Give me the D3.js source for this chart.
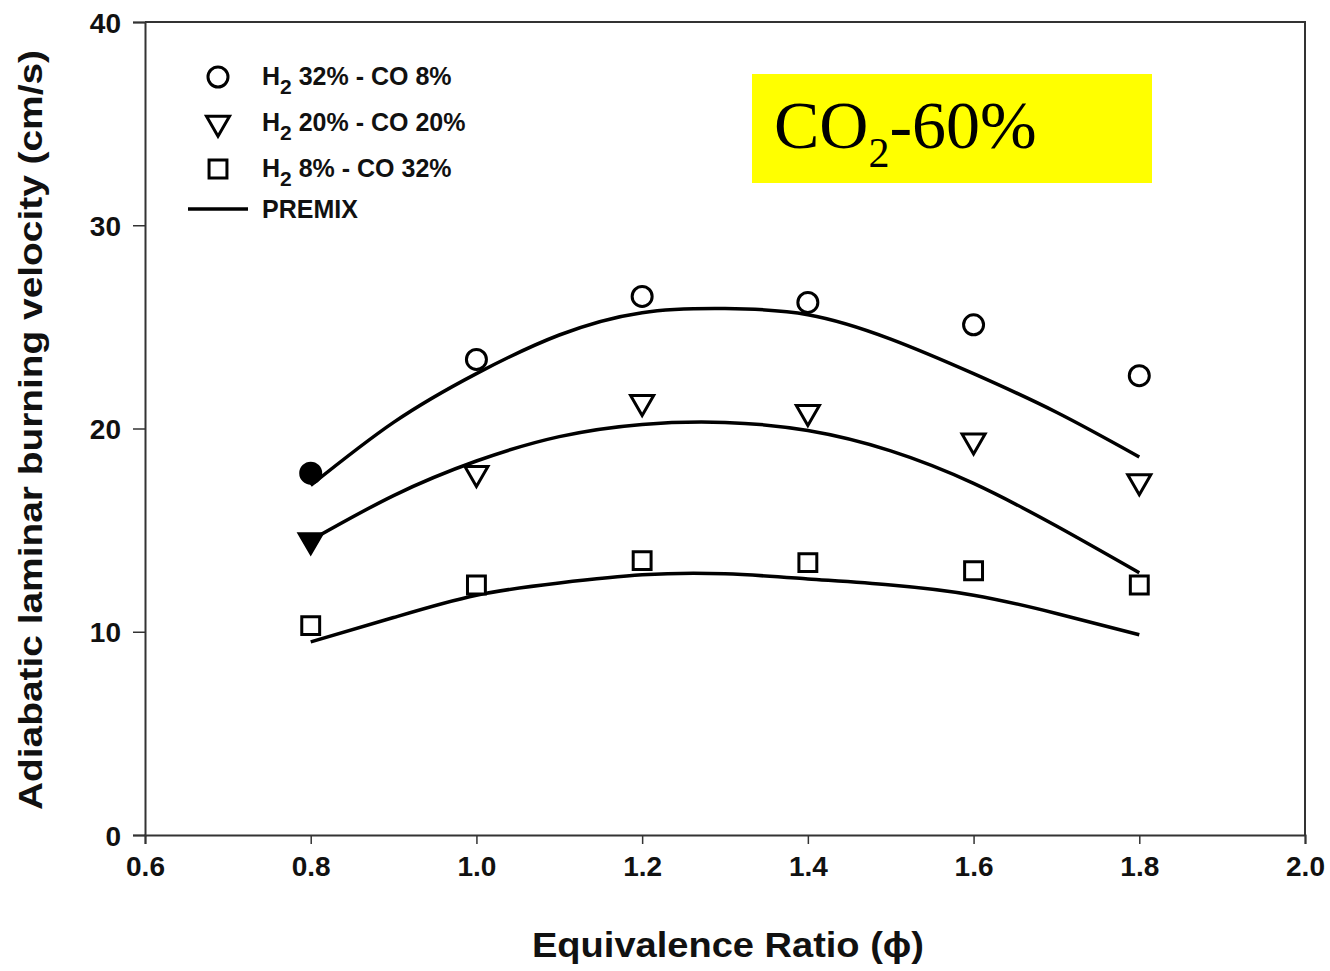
<!DOCTYPE html>
<html>
<head>
<meta charset="utf-8">
<script src="https://cdn.jsdelivr.net/npm/d3@7"></script>
<style>
  body { margin: 0; background: #fff; }
  svg { display: block; font-family: "Liberation Sans", Arial, sans-serif; }
</style>
</head>
<body>
<svg id="chart"></svg>
<script>
// measured points
const phiPoints = [0.8, 1.0, 1.2, 1.4, 1.6, 1.8];
const h2_32 = [17.8, 23.4, 26.5, 26.2, 25.1, 22.6];
const h2_20 = [14.5, 17.8, 21.3, 20.8, 19.4, 17.4];
const h2_8 = [10.3, 12.3, 13.5, 13.4, 13.0, 12.3];

// premix curves
const phiCurve = [0.8, 0.9, 1.0, 1.1, 1.2, 1.3, 1.4, 1.5, 1.6, 1.7, 1.8];
const premix32 = [17.2, 20.3, 22.7, 24.6, 25.7, 25.9, 25.6, 24.4, 22.7, 20.8, 18.6];
const premix20 = [14.5, 16.7, 18.4, 19.6, 20.2, 20.3, 19.9, 18.9, 17.3, 15.2, 12.9];
const premix8 = [9.5, 10.7, 11.8, 12.4, 12.8, 12.85, 12.6, 12.3, 11.8, 10.9, 9.85];

const xTicks = [0.6, 0.8, 1.0, 1.2, 1.4, 1.6, 1.8, 2.0];
const yTicks = [0, 10, 20, 30, 40];

const legendLabels = [
  ['32% - CO 8%', 'circle'],
  ['20% - CO 20%', 'triangle'],
  ['8% - CO 32%', 'square']
];

const width = 1330, height = 971;
const svg = d3.select('#chart').attr('width', width).attr('height', height);

const x = d3.scaleLinear().domain([0.6, 2.0]).range([145, 1305]);
const y = d3.scaleLinear().domain([0, 40]).range([835, 22]);

const axisColor = '#333';

/* frame: top and right */
svg.append('path')
  .attr('d', `M${x(0.6)},${y(40)}H${x(2.0)}V${y(0)}`)
  .attr('fill', 'none').attr('stroke', axisColor).attr('stroke-width', 2);

/* axes */
const xAxis = svg.append('g')
  .attr('transform', `translate(0,${y(0)})`)
  .call(d3.axisBottom(x).tickValues(xTicks).tickFormat(d3.format('.1f')).tickSizeOuter(0).tickSize(9).tickPadding(10));
const yAxis = svg.append('g')
  .attr('transform', `translate(${x(0.6)},0)`)
  .call(d3.axisLeft(y).tickValues(yTicks).tickSizeOuter(0).tickSize(12).tickPadding(12));

[xAxis, yAxis].forEach(g => {
  g.select('.domain').attr('stroke', axisColor).attr('stroke-width', 2);
  g.selectAll('.tick line').attr('stroke', axisColor).attr('stroke-width', 1.5);
  g.selectAll('.tick text')
    .attr('fill', '#111')
    .style('font-size', '28px')
    .style('font-weight', 'bold')
    .style('font-family', '"Liberation Sans", Arial, sans-serif');
});
xAxis.selectAll('.tick text').attr('dy', '0.8em');
yAxis.selectAll('.tick text').attr('dy', '0.36em');

/* axis titles */
svg.append('text')
  .attr('x', 728).attr('y', 957)
  .attr('text-anchor', 'middle')
  .attr('textLength', 392).attr('lengthAdjust', 'spacingAndGlyphs')
  .style('font-size', '35px').style('font-weight', 'bold').attr('fill', '#111')
  .text('Equivalence Ratio (ϕ)');

svg.append('text')
  .attr('transform', `translate(42,430) rotate(-90)`)
  .attr('text-anchor', 'middle')
  .attr('textLength', 760).attr('lengthAdjust', 'spacingAndGlyphs')
  .style('font-size', '33px').style('font-weight', 'bold').attr('fill', '#111')
  .text('Adiabatic laminar burning velocity (cm/s)');

/* premix lines */
const line = d3.line()
  .x(d => x(d[0]))
  .y(d => y(d[1]))
  .curve(d3.curveNatural);

[premix32, premix20, premix8].forEach(vals => {
  svg.append('path')
    .datum(phiCurve.map((p, i) => [p, vals[i]]))
    .attr('d', line)
    .attr('fill', 'none')
    .attr('stroke', '#000')
    .attr('stroke-width', 3.5);
});

/* markers */
const symbolFor = {
  circle: d3.symbol().type(d3.symbolCircle).size(Math.PI * 10 * 10),
  triangle: d3.symbol().type(d3.symbolTriangle).size(230),
  square: d3.symbol().type(d3.symbolSquare).size(320)
};

function drawMarkers(vals, shape) {
  svg.append('g').selectAll('path')
    .data(phiPoints.map((p, i) => [p, vals[i]]))
    .join('path')
    .attr('d', symbolFor[shape])
    .attr('transform', d => `translate(${x(d[0])},${y(d[1])})` + (shape === 'triangle' ? ' rotate(180)' : ''))
    .attr('fill', (d, i) => (i === 0 && shape !== 'square') ? '#000' : '#fff')
    .attr('stroke', '#000')
    .attr('stroke-width', 3);
}
drawMarkers(h2_32, 'circle');
drawMarkers(h2_20, 'triangle');
drawMarkers(h2_8, 'square');

/* legend */
const legend = svg.append('g');
legendLabels.forEach((l, i) => {
  const ly = 77 + i * 46;
  legend.append('path')
    .attr('d', symbolFor[l[1]])
    .attr('transform', `translate(218,${ly})` + (l[1] === 'triangle' ? ' rotate(180)' : ''))
    .attr('fill', '#fff').attr('stroke', '#000').attr('stroke-width', 3);
  const t = legend.append('text')
    .attr('x', 262).attr('y', ly + 8)
    .style('font-size', '25px').style('font-weight', 'bold').attr('fill', '#111');
  t.append('tspan').text('H');
  t.append('tspan').attr('dy', 9).style('font-size', '21px').text('2');
  t.append('tspan').attr('dy', -9).text(' ' + l[0]);
});
legend.append('line')
  .attr('x1', 188).attr('x2', 248).attr('y1', 209).attr('y2', 209)
  .attr('stroke', '#000').attr('stroke-width', 3.5);
legend.append('text')
  .attr('x', 262).attr('y', 218)
  .style('font-size', '25px').style('font-weight', 'bold').attr('fill', '#111')
  .text('PREMIX');

/* CO2 label box */
svg.append('rect')
  .attr('x', 752).attr('y', 74).attr('width', 400).attr('height', 109)
  .attr('fill', '#ffff00');
const co2 = svg.append('text')
  .attr('x', 774).attr('y', 148)
  .style('font-family', '"Liberation Serif", "Times New Roman", serif')
  .style('font-size', '68px').attr('fill', '#000');
co2.append('tspan').text('CO');
co2.append('tspan').attr('dy', 19).style('font-size', '42px').text('2');
co2.append('tspan').attr('dy', -19).text('-60%');
</script>
</body>
</html>
